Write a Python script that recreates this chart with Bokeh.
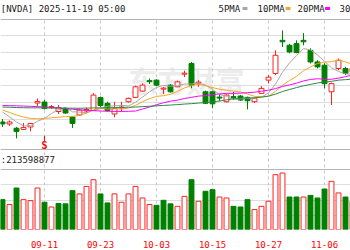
from bokeh.plotting import figure
from bokeh.models import Range1d, FixedTicker
from bokeh.core.properties import value
from bokeh.embed import file_html
from bokeh.resources import INLINE

# ---------------- data ----------------
dates = ["09-03", "09-04", "09-05", "09-08", "09-09", "09-10", "09-11", "09-12", "09-15", "09-16",
         "09-17", "09-18", "09-19", "09-22", "09-23", "09-24", "09-25", "09-26", "09-29", "09-30",
         "10-01", "10-02", "10-03", "10-06", "10-07", "10-08", "10-09", "10-10", "10-13", "10-14",
         "10-15", "10-16", "10-17", "10-20", "10-21", "10-22", "10-23", "10-24", "10-27", "10-28",
         "10-29", "10-30", "10-31", "11-03", "11-04", "11-05", "11-06", "11-07", "11-10", "11-11",
         "11-12"]

open_ = [170.8, 169.9, 167.97, 167.43, 168.55, 179.35, 179.8, 177.33, 175.53, 176.88,
         173.05, 173.95, 175.75, 175.98, 181.83, 179.22, 174.4, 177.1, 179.94, 181.92,
         184.75, 189.48, 189.7, 185.65, 187.45, 186.69, 192.4, 197.22, 188.35, 184.44,
         184.44, 182.05, 179.94, 182.28, 182.5, 181.92, 179.94, 183.72, 189.7, 192.72,
         207.7, 205.45, 206.22, 207.7, 203.2, 197.94, 196.45, 184.44, 194.97, 194.97,
         193.3]
high = [172.15, 171.48, 168.55, 170.35, 170.35, 181.38, 180.7, 178.45, 178.45, 177.33,
        173.28, 176.88, 177.33, 183.85, 182.28, 179.94, 179.94, 179.94, 181.83, 187.23,
        188.22, 190.47, 190.15, 186.69, 187.9, 189.48, 193.98, 197.94, 189.7, 184.98,
        184.98, 183.4, 183.4, 184.44, 182.95, 182.28, 181.83, 187.0, 191.95, 203.2,
        212.2, 206.13, 207.7, 210.99, 204.1, 198.7, 197.35, 188.6, 199.47, 195.69,
        196.0]
low = [168.55, 169.0, 163.38, 167.2, 166.53, 177.78, 176.43, 176.65, 174.4, 174.4,
       168.1, 173.5, 174.85, 175.75, 177.55, 175.44, 172.92, 175.44, 179.58, 181.6,
       184.53, 187.9, 187.0, 183.4, 184.08, 186.55, 191.05, 185.97, 186.69, 178.9,
       176.97, 180.25, 179.58, 180.7, 180.25, 176.52, 179.35, 183.4, 188.22, 191.95,
       204.69, 201.85, 201.85, 205.45, 197.22, 194.97, 185.97, 178.45, 194.2, 191.95,
       192.4]
close = [169.9, 170.8, 166.53, 168.33, 170.13, 180.03, 176.88, 177.78, 177.33, 174.85,
         170.13, 176.2, 176.43, 182.95, 178.23, 175.98, 176.97, 177.55, 181.47, 186.69,
         187.45, 189.03, 187.45, 186.1, 184.44, 188.94, 192.85, 187.45, 188.8, 179.22,
         179.0, 181.6, 182.95, 181.83, 180.7, 180.39, 181.47, 185.97, 191.05, 200.95,
         207.03, 202.44, 202.2, 207.03, 197.94, 195.69, 188.1, 188.15, 198.7, 192.72,
         195.1]

ma5 = [175.3, 173.05, 170.8, 169.0, 169.14, 171.16, 172.38, 174.63, 176.43, 177.37,
       175.39, 175.26, 174.99, 176.11, 176.79, 177.96, 178.11, 178.33, 178.05, 179.71,
       182.0, 184.44, 186.42, 187.36, 186.91, 187.18, 187.95, 187.95, 188.49, 187.45,
       185.52, 183.27, 182.37, 180.97, 181.24, 181.51, 181.47, 182.05, 183.9, 187.95,
       193.3, 197.49, 200.77, 203.97, 203.38, 201.09, 198.25, 195.28, 193.62, 192.54,
       192.45]
ma10 = [176.2, 175.08, 173.95, 173.05, 172.38, 172.24, 172.38, 172.69, 172.96, 173.25,
        173.28, 173.82, 174.81, 176.27, 177.08, 176.67, 176.7, 176.65, 177.06, 178.27,
        180.0, 181.29, 182.37, 182.68, 183.31, 184.62, 186.19, 187.18, 187.9, 187.18,
        186.33, 185.61, 185.16, 184.71, 184.35, 183.49, 182.37, 182.23, 182.46, 184.62,
        187.41, 189.48, 191.41, 193.93, 195.69, 197.22, 197.89, 198.03, 198.79, 197.98,
        196.77]
ma20 = [178.23, 178.18, 178.09, 178.0, 177.87, 177.73, 177.55, 177.33, 177.1, 176.83,
        176.56, 176.29, 176.07, 175.89, 175.75, 175.66, 175.57, 175.57, 175.62, 175.75,
        176.65, 177.55, 178.59, 179.49, 180.21, 180.66, 181.42, 181.92, 182.5, 182.73,
        183.18, 183.45, 183.76, 183.72, 183.85, 184.03, 184.26, 184.71, 185.16, 185.88,
        186.87, 187.54, 188.31, 189.34, 190.02, 190.33, 190.1, 190.1, 190.6, 191.27,
        192.08]
ma30 = [177.55, 177.46, 177.33, 177.24, 177.19, 177.19, 177.15, 177.1, 177.1, 177.06,
        177.01, 177.01, 177.06, 177.15, 177.19, 177.24, 177.28, 177.37, 177.46, 177.55,
        177.73, 177.91, 178.09, 178.27, 178.45, 178.63, 178.9, 179.08, 179.35, 179.58,
        179.89, 180.25, 180.79, 181.24, 181.6, 181.6, 181.74, 182.01, 182.46, 183.36,
        184.57, 185.47, 186.33, 187.14, 187.77, 188.44, 188.8, 189.16, 189.7, 189.93,
        190.15]

# volume in millions of shares, and whether the day closed above the previous close
volume = [183, 153, 254, 183, 177, 254, 167, 138, 159, 157,
          238, 218, 264, 305, 218, 163, 218, 167, 218, 264,
          193, 153, 148, 179, 157, 142, 203, 305, 173, 234,
          244, 199, 193, 142, 138, 183, 122, 142, 173, 336,
          346, 199, 199, 199, 209, 193, 248, 295, 224, 199,
          173]
vol_up = [0, 1, 0, 1, 1, 1, 0, 1, 0, 0,
          0, 1, 1, 1, 0, 0, 1, 1, 1, 1,
          1, 1, 0, 0, 0, 1, 1, 0, 1, 0,
          0, 1, 1, 0, 0, 0, 1, 1, 1, 1,
          1, 0, 0, 1, 0, 0, 0, 1, 1, 0,
          1]

tick_labels = ["09-11", "09-23", "10-03", "10-15", "10-27", "11-06"]
title_text = "[NVDA] 2025-11-19 05:00"
legend_names = ["5PMA", "10PMA", "20PMA", "30PMA"]
vol_text = ":213598877"
event_day = "09-11"
event_mark = "S"

# ---------------- styling ----------------
RED = "#ff2020"
GREEN = "#008000"
MA_COLORS = ["#a8a8a8", "#f5a623", "#ff00ff", "#2a8a4a"]
MONO = value("DejaVu Sans Mono")

idx = list(range(len(dates)))
tick_pos = [dates.index(t) for t in tick_labels]

p = figure(width=350, height=250, output_backend="svg", toolbar_location=None,
           x_range=Range1d(-0.2857, 49.714), y_range=Range1d(230, 0),
           y_axis_location=None, min_border_left=0, min_border_right=0,
           min_border_top=0, min_border_bottom=20)
p.extra_y_ranges = {"price": Range1d(122.2, 225.7), "vol": Range1d(0, 1403)}
p.outline_line_color = None
p.xgrid.visible = False
p.ygrid.visible = False
p.background_fill_color = "white"
p.border_fill_color = "white"

ax = p.xaxis[0]
ax.ticker = FixedTicker(ticks=tick_pos)
ax.major_label_overrides = {t: lab for t, lab in zip(tick_pos, tick_labels)}
ax.axis_line_color = None
ax.major_tick_line_color = None
ax.minor_tick_line_color = None
ax.major_label_text_color = "#ff0000"
ax.major_label_text_font = "DejaVu Sans Mono"
ax.major_label_text_font_size = "9px"
ax.major_label_standoff = 5

# watermark
p.text(x=[18.0], y=[80], text=["东方财富"], text_font=value("Noto Sans CJK SC"),
       text_font_size="29px", text_font_style="bold", text_color="#ececec",
       text_baseline="middle", text_align="left")

# horizontal rules (layout units = pixels from top of frame)
p.hspan(y=[35.5, 52.5, 69.5, 85.5, 102.5, 119.5, 135.5, 184.5, 200.5, 215.5, 229.5],
        line_color="#dedede", line_width=1)
p.hspan(y=[19.5, 149.5, 169.5], line_color="#b4b4b4", line_width=1)
# vertical dashed date lines
p.segment(x0=tick_pos, x1=tick_pos, y0=[20] * len(tick_pos), y1=[230] * len(tick_pos),
          line_color="#c8c8c8", line_dash="3 3", line_width=1)

# candles
up = [c >= o for o, c in zip(open_, close)]
ccol = [RED if u else GREEN for u in up]
cfill = ["white" if u else GREEN for u in up]
p.segment(x0=idx, x1=idx, y0=low, y1=high, line_color=ccol, line_width=1,
          y_range_name="price")
p.vbar(x=idx, width=0.7, top=[max(o, c) for o, c in zip(open_, close)],
       bottom=[min(o, c) for o, c in zip(open_, close)],
       fill_color=cfill, line_color=ccol, line_width=1, y_range_name="price")

# moving averages
for ma, col in zip([ma5, ma10, ma20, ma30], MA_COLORS):
    p.line(idx, ma, line_color=col, line_width=1, y_range_name="price")

# volume
vcol = [RED if u else GREEN for u in vol_up]
vfill = ["white" if u else GREEN for u in vol_up]
p.vbar(x=idx, width=0.7, top=volume, bottom=0, fill_color=vfill, line_color=vcol,
       line_width=1, y_range_name="vol")

# header texts
p.text(x=[-0.25], y=[8.5], text=[title_text], text_font=MONO, text_font_size="9px",
       text_color="#1a1a1a", text_baseline="middle", text_align="left")
p.text(x=[30.86, 36.43, 42.14, 48.14], y=[8.5] * 4, text=legend_names, text_font=MONO,
       text_font_size="9px", text_color="#1a1a1a", text_baseline="middle", text_align="left")
p.rect(x=[34.64, 40.79, 46.43], y=[8, 8, 8], width=0.7, height=3,
       fill_color=MA_COLORS[:3], line_color=None)
p.text(x=[-0.25], y=[160.5], text=[vol_text], text_font=MONO, text_font_size="9px",
       text_color="#1a1a1a", text_baseline="middle", text_align="left")

# event marker
ev = dates.index(event_day)
p.segment(x0=[ev], x1=[ev], y0=[136], y1=[141], line_color="#ff0000", line_width=1)
p.text(x=[ev], y=[145.5], text=[event_mark], text_font=MONO, text_font_size="10px",
       text_font_style="bold", text_color="#ff0000", text_baseline="middle", text_align="center")

open("out.html", "w").write(file_html(p, INLINE))
